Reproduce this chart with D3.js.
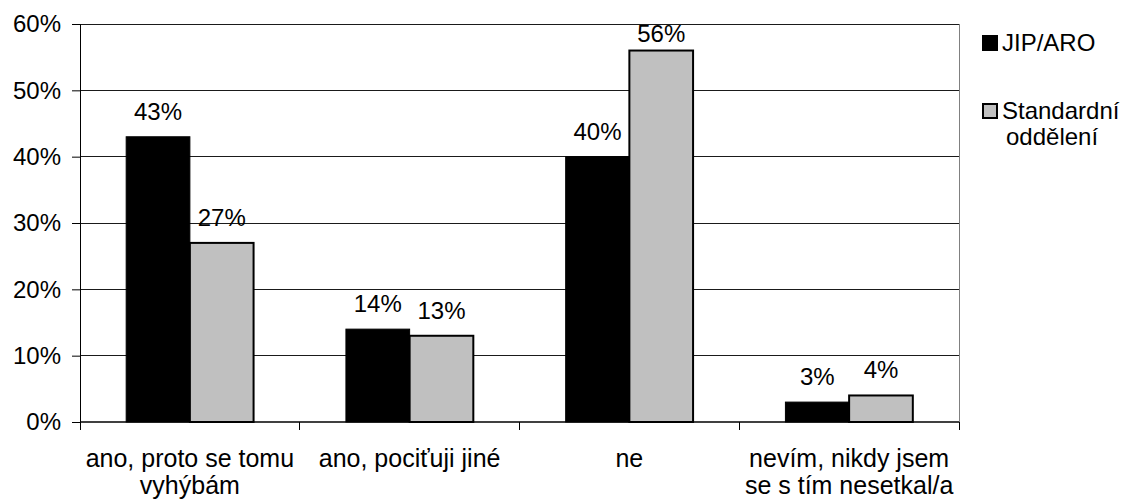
<!DOCTYPE html>
<html>
<head>
<meta charset="utf-8">
<script src="https://cdn.jsdelivr.net/npm/d3@7"></script>
<style>
  html, body { margin: 0; padding: 0; background: #fff; }
  svg { display: block; font-family: "Liberation Sans", Arial, sans-serif; }
</style>
</head>
<body>
<svg id="chart" width="1123" height="500"></svg>
<script>
// Odpovědi podle typu pracoviště
const categories = [
  ["ano, proto se tomu", "vyhýbám"],
  ["ano, pociťuji jiné"],
  ["ne"],
  ["nevím, nikdy jsem", "se s tím nesetkal/a"]
];
const seriesNames = ["JIP/ARO", "Standardní oddělení"];
const jipAro = [43, 14, 40, 3];
const standardni = [27, 13, 56, 4];
const yTicks = [0, 10, 20, 30, 40, 50, 60];

const colors = ["#000000", "#c0c0c0"];
const fontSize = 24;
const catFontSize = 25;

const svg = d3.select("#chart");
const plot = { left: 80, right: 959, top: 24, bottom: 422 };

const x0 = d3.scaleBand()
  .domain(d3.range(categories.length))
  .range([plot.left, plot.right])
  .paddingInner(0)
  .paddingOuter(0);

// cluster: two bars, gap width 145 % of bar width split over both sides
const barW = x0.bandwidth() / (2 + 1.45);
const sideGap = (x0.bandwidth() - 2 * barW) / 2;

const y = d3.scaleLinear().domain([0, 60]).range([plot.bottom, plot.top]);

// horizontal gridlines
svg.append("g")
  .selectAll("line")
  .data(yTicks.filter(d => d > 0))
  .join("line")
  .attr("x1", plot.left).attr("x2", plot.right)
  .attr("y1", d => y(d)).attr("y2", d => y(d))
  .attr("stroke", "#1a1a1a").attr("stroke-width", 1)
  .attr("shape-rendering", "crispEdges");

// right frame
svg.append("line")
  .attr("x1", plot.right).attr("x2", plot.right)
  .attr("y1", plot.top).attr("y2", plot.bottom)
  .attr("stroke", "#808080").attr("stroke-width", 1)
  .attr("shape-rendering", "crispEdges");

// bars
const series = [jipAro, standardni];
const barsG = svg.append("g");
series.forEach((vals, s) => {
  barsG.selectAll(null)
    .data(vals)
    .join("rect")
    .attr("x", (d, i) => x0(i) + sideGap + s * barW)
    .attr("y", d => y(d))
    .attr("width", barW)
    .attr("height", d => y(0) - y(d))
    .attr("fill", colors[s])
    .attr("stroke", "#000")
    .attr("stroke-width", s === 1 ? 2 : 1);
});

// value labels
const capH = fontSize * 0.716;
series.forEach((vals, s) => {
  svg.append("g")
    .selectAll("text")
    .data(vals)
    .join("text")
    .attr("x", (d, i) => x0(i) + sideGap + s * barW + barW / 2)
    .attr("y", d => Math.max(y(d) - 17, plot.top + capH + 1))
    .attr("text-anchor", "middle")
    .attr("font-size", fontSize)
    .attr("fill", "#000")
    .text(d => d + "%");
});

// y axis
const yAxis = d3.axisLeft(y)
  .tickValues(yTicks)
  .tickSize(8)
  .tickPadding(11)
  .tickFormat(d => d + "%");
const yg = svg.append("g")
  .attr("transform", `translate(${plot.left},0)`)
  .call(yAxis);
yg.select(".domain").attr("stroke", "#000");
yg.selectAll(".tick line").attr("stroke", "#000");
yg.selectAll(".tick text")
  .attr("font-size", fontSize)
  .attr("font-family", "Liberation Sans, Arial, sans-serif")
  .attr("fill", "#000");

// x axis: baseline with ticks on category boundaries
const boundaries = d3.range(categories.length + 1).map(i =>
  i < categories.length ? x0(i) : x0(i - 1) + x0.bandwidth());
const xg = svg.append("g");
xg.append("line")
  .attr("x1", plot.left).attr("x2", plot.right)
  .attr("y1", plot.bottom).attr("y2", plot.bottom)
  .attr("stroke", "#000").attr("stroke-width", 1.5);
xg.selectAll(".bt")
  .data(boundaries)
  .join("line")
  .attr("x1", d => d).attr("x2", d => d)
  .attr("y1", plot.bottom).attr("y2", plot.bottom + 8)
  .attr("stroke", "#000").attr("stroke-width", 1)
  .attr("shape-rendering", "crispEdges");

// category labels
const catText = xg.selectAll(".cat")
  .data(categories)
  .join("text")
  .attr("text-anchor", "middle")
  .attr("font-size", catFontSize)
  .attr("fill", "#000")
  .attr("transform", (d, i) => `translate(${x0(i) + x0.bandwidth() / 2},${plot.bottom + 45})`);
catText.selectAll("tspan")
  .data(d => d)
  .join("tspan")
  .attr("x", 0)
  .attr("dy", (d, j) => j === 0 ? 0 : 27)
  .text(d => d);

// legend
const legend = svg.append("g").attr("transform", "translate(982,35)");
const legendRows = [
  { name: ["JIP/ARO"], y: 0 },
  { name: ["Standardní", "oddělení"], y: 68 }
];
legendRows.forEach((row, s) => {
  legend.append("rect")
    .attr("x", s === 1 ? 1 : 0).attr("y", row.y + (s === 1 ? 1 : 0))
    .attr("width", s === 1 ? 14 : 16).attr("height", s === 1 ? 14 : 16)
    .attr("fill", colors[s])
    .attr("stroke", "#000")
    .attr("stroke-width", s === 1 ? 2 : 0);
  const t = legend.append("text")
    .attr("x", 20)
    .attr("y", row.y + 16)
    .attr("font-size", fontSize)
    .attr("fill", "#000");
  t.selectAll("tspan")
    .data(row.name)
    .join("tspan")
    .attr("x", (d, j) => j === 0 ? 20 : 24)
    .attr("dy", (d, j) => j === 0 ? 0 : 26)
    .text(d => d);
});
</script>
</body>
</html>
